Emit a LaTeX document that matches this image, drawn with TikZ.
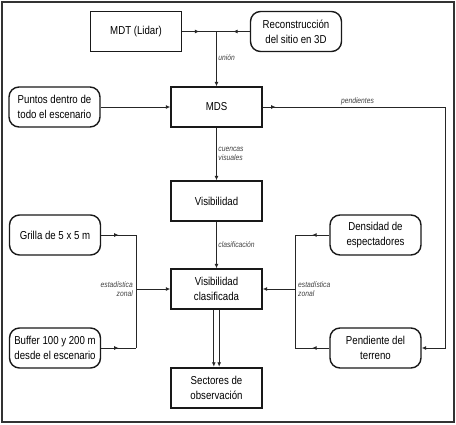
\documentclass[tikz,border=0pt]{standalone}
\usepackage{fontspec}
\setmainfont[FakeStretch=0.84]{Liberation Sans}
\usepackage{tikz}
\usetikzlibrary{arrows.meta, decorations.markings}

\tikzset{
  box/.style={draw=black!90, line width=1.4pt, minimum width=91pt, minimum height=40pt,
    inner sep=1pt, align=center, font=\fontsize{11.5}{15}\selectfont},
  rbox/.style={box, rounded corners=10pt},
  lbl/.style={font=\fontsize{8}{9.5}\selectfont\itshape, text=black!75, inner sep=1.5pt},
  flow/.style={line width=0.9pt, draw=black!85},
  arr/.style={-{Latex[length=4.5pt,width=4pt]}},
  midtip/.style={postaction={decorate}, decoration={markings,
    mark=at position #1 with {\arrow{Latex[length=4.5pt,width=4pt]}}}},
}

\begin{document}
\begin{tikzpicture}[x=1pt,y=-1pt]
    \useasboundingbox (0,0) rectangle (456,424);
    \draw[line width=2pt, black!80] (2,2) rectangle (454,422);

    \node[box] (mdt) at (136,31.5) {MDT (Lidar)};
    \node[rbox] (rec) at (296,31.5) {Reconstrucción\\del sitio en 3D};
    \node[box] (mds) at (216.5,107) {MDS};
    \node[rbox] (pun) at (54.5,107) {Puntos dentro de\\todo el escenario};
    \node[box] (vis) at (216.5,201) {Visibilidad};
    \node[rbox] (gri) at (55,235) {Grilla de 5 x 5 m};
    \node[rbox] (den) at (375.5,235) {Densidad de\\espectadores};
    \node[box] (cla) at (216.5,289) {Visibilidad\\clasificada};
    \node[rbox] (buf) at (55,348) {Buffer 100 y 200 m\\desde el escenario};
    \node[rbox] (pen) at (375.5,348) {Pendiente del\\terreno};
    \node[box, line width=2.5pt] (sec) at (216.5,388) {Sectores de\\observación};

    \coordinate (jun) at (216.5,31.5);
    \coordinate (pA) at (445,107);
    \coordinate (pB) at (445,348);
    \coordinate (gL) at (136,235);
    \coordinate (bL) at (136,348);
    \coordinate (cL) at (136,289);
    \coordinate (dR) at (295,235);
    \coordinate (pR) at (295,348);
    \coordinate (cR) at (295,289);

    \draw[flow, midtip=0.5] (mdt.east) -- (jun);
    \draw[flow, midtip=0.5] (rec.west) -- (jun);
    \draw[flow, arr] (jun) -- (mds.north) node[lbl, pos=0.48, right] {unión};
    \draw[flow, arr] (pun.east) -- (mds.west);
    \draw[flow, arr, midtip=13pt] (mds.east) -- (pA) node[lbl, above, pos=0.52] {pendientes}
        -- (pB) -- (pen.east);
    \draw[flow, arr] (mds.south) -- (vis.north) node[lbl, midway, right, align=left] {cuencas\\visuales};
    \draw[flow, arr] (vis.south) -- (cla.north) node[lbl, midway, right] {clasificación};

    \draw[flow, midtip=0.5] (gri.east) -- (gL);
    \draw[flow, midtip=0.5] (buf.east) -- (bL);
    \draw[flow] (gL) -- (bL);
    \draw[flow, arr] (cL) -- (cla.west);
    \node[lbl, anchor=east, align=right] (estL) at (134.5,289) {estadística\\zonal};

    \draw[flow, midtip=0.5] (den.west) -- (dR);
    \draw[flow, midtip=0.5] (pen.west) -- (pR);
    \draw[flow] (dR) -- (pR);
    \draw[flow, arr] (cR) -- (cla.east);
    \node[lbl, anchor=west, align=left] (estR) at (296.5,289) {estadística\\zonal};

    \draw[flow, arr] ([xshift=-2.7pt]cla.south) -- ([xshift=-2.7pt]sec.north);
    \draw[flow, arr] ([xshift=2.7pt]cla.south) -- ([xshift=2.7pt]sec.north);
\end{tikzpicture}
\end{document}
